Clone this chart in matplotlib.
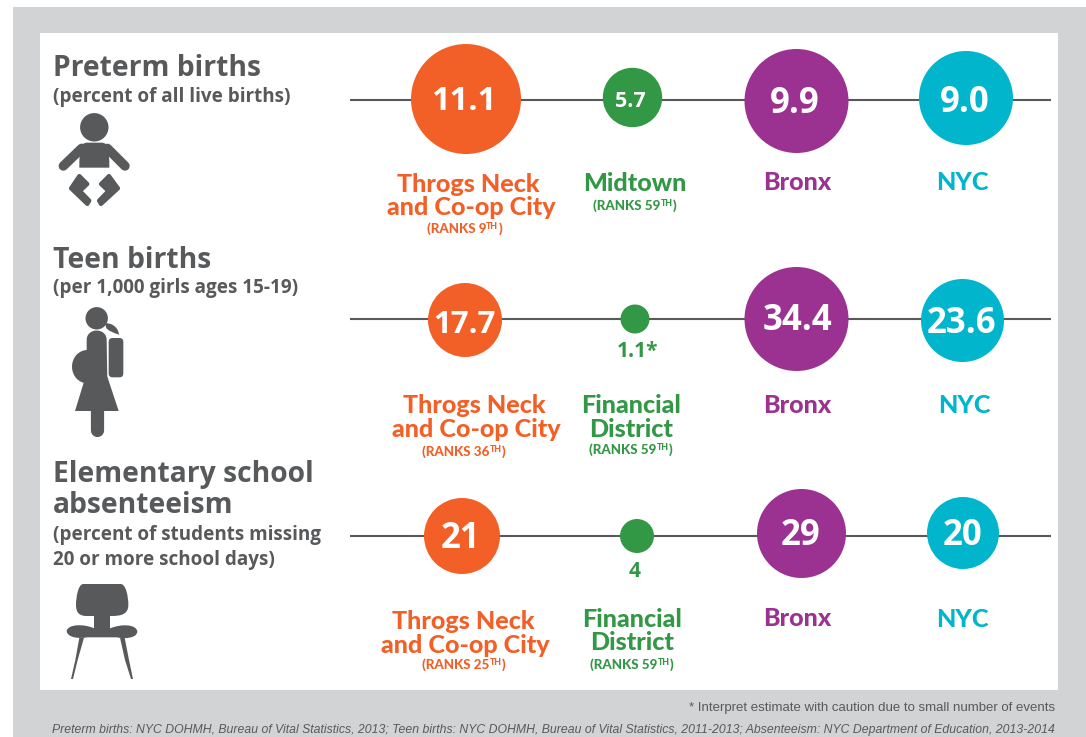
import matplotlib
matplotlib.use("Agg")
import matplotlib.pyplot as plt
from matplotlib.patches import Circle, Rectangle, Polygon, PathPatch, Ellipse, FancyBboxPatch
from matplotlib.path import Path

# ---- data ----
metrics = ["Preterm births", "Teen births", "Elementary school\nabsenteeism"]
units = ["(percent of all live births)", "(per 1,000 girls ages 15-19)",
         "(percent of students missing\n20 or more school days)"]
throgs_values = ["11.1", "17.7", "21"]
best_values = ["5.7", "1.1*", "4"]
bronx_values = ["9.9", "34.4", "29"]
nyc_values = ["9.0", "23.6", "20"]
throgs_ranks = ["9", "36", "25"]
best_ranks = ["59", "59", "59"]
best_names = [["Midtown"], ["Financial", "District"], ["Financial", "District"]]
throgs_name = ["Throgs Neck", "and Co-op City"]
bronx_name = "Bronx"
nyc_name = "NYC"
note = "* Interpret estimate with caution due to small number of events"
source = ("Preterm births: NYC DOHMH, Bureau of Vital Statistics, 2013; Teen births: NYC DOHMH, "
          "Bureau of Vital Statistics, 2011-2013; Absenteeism: NYC Department of Education, 2013-2014")

# ---- style / layout (pixels) ----
ORANGE, GREEN, PURPLE, CYAN = "#f36027", "#329845", "#9b3291", "#00b5cc"
INK, BG = "#58595b", "#d1d3d4"
BOLD = "Open Sans"
LABEL = "Lato"
HEAVY = 900
line_y = [99.7, 319.3, 536]
throgs_c = [(466, 99, 55), (465, 320, 37), (462, 536, 38)]
best_c = [(632.5, 97.5, 29.7), (635, 319, 14.5), (637, 536, 17)]
bronx_c = [(796.5, 101, 52), (796.5, 319, 52), (801.5, 533.5, 44.5)]
nyc_c = [(966, 98, 47), (962.5, 320.5, 41.5), (963, 533, 36)]
throgs_t = [(464, 110, 23.5), (464, 332.7, 22.5), (461, 547.7, 25)]
best_t = [(630, 107, 15.5), (637.5, 357, 15), (635, 576.7, 15)]
bronx_t = [(795, 112.7, 25), (798, 330, 25), (801, 545, 25)]
nyc_t = [(965, 111.6, 25), (962, 332.7, 25), (963, 545, 25)]

fig = plt.figure(figsize=(10.86, 7.37), dpi=100, facecolor="white")
ax = fig.add_axes([0, 0, 1, 1])
ax.set_xlim(0, 1086)
ax.set_ylim(737, 0)
ax.axis("off")

ax.add_patch(Rectangle((13, 7), 1073, 730, fc=BG, ec="none", zorder=0))
ax.add_patch(Rectangle((40, 33), 1018, 657, fc="white", ec="none", zorder=1))


def T(x, y, s, size, color=INK, ha="center", family=BOLD, weight="bold", **kw):
    return ax.text(x, y, s, fontsize=size, color=color, ha=ha, va="baseline",
                   family=family, weight=weight, zorder=6, **kw)


def ranks(cx, y, num, color):
    r = fig.canvas.get_renderer()
    a = T(0, y, f"(RANKS {num}", 9.6, color, ha="left", family=LABEL)
    b = T(0, y - 4, "TH", 6.3, color, ha="left", family=LABEL)
    c = T(0, y, ")", 9.6, color, ha="left", family=LABEL)
    for t in (a, b, c):
        t.set_weight(HEAVY)
    wa, wb, wc = [t.get_window_extent(r).width for t in (a, b, c)]
    left = cx - (wa + wb + wc) / 2
    a.set_x(left)
    b.set_x(left + wa)
    c.set_x(left + wa + wb)


# rows
for i in range(3):
    ax.plot([350, 1051], [line_y[i]] * 2, color=INK, lw=1.5, solid_capstyle="butt", zorder=2)
    for (cs, col) in ((throgs_c, ORANGE), (best_c, GREEN), (bronx_c, PURPLE), (nyc_c, CYAN)):
        x, y, r = cs[i]
        ax.add_patch(Circle((x, y), r, fc=col, ec="none", zorder=3))
    for (ts, vals, col) in ((throgs_t, throgs_values, "white"), (best_t, best_values, "white" if i == 0 else GREEN),
                            (bronx_t, bronx_values, "white"), (nyc_t, nyc_values, "white")):
        x, y, s = ts[i]
        T(x, y, vals[i], s, col)

LBL = 18.1
name_pos = [
    [(468.6, 191.7), (471, 215)], [(474, 412.7), (476, 436.7)], [(463, 629), (465, 652.7)]
]
throgs_rank_pos = [(464.4, 233), (464, 456), (464, 669)]
best_name_pos = [[(635, 191)], [(630.6, 412.7), (631, 436.7)], [(632, 626.7), (632, 650)]]
best_rank_pos = [(635, 210), (631, 454), (632, 669)]
bronx_pos = [(797, 190), (797, 412.7), (797, 625.7)]
nyc_pos = [(962, 190), (964, 412.7), (962, 626.7)]
for i in range(3):
    for (x, y), s in zip(name_pos[i], throgs_name):
        T(x, y, s, LBL, ORANGE, family=LABEL).set_weight(HEAVY)
    ranks(*throgs_rank_pos[i], throgs_ranks[i], ORANGE)
    for (x, y), s in zip(best_name_pos[i], best_names[i]):
        T(x, y, s, LBL, GREEN, family=LABEL).set_weight(HEAVY)
    ranks(*best_rank_pos[i], best_ranks[i], GREEN)
    T(*bronx_pos[i], bronx_name, LBL, PURPLE, family=LABEL).set_weight(HEAVY)
    T(*nyc_pos[i], nyc_name, LBL, CYAN, family=LABEL).set_weight(HEAVY)

# headings
HEAD, SUB = 20.3, 13.6
T(53, 76, metrics[0], HEAD, ha="left")
T(53, 101.7, units[0], SUB, ha="left")
T(53, 268, metrics[1], HEAD, ha="left")
T(53, 293, units[1], SUB, ha="left")
e1, e2 = metrics[2].split("\n")
T(53, 481.7, e1, HEAD, ha="left")
T(53, 513, e2, HEAD, ha="left")
u1, u2 = units[2].split("\n")
T(53, 540, u1, SUB, ha="left")
T(53, 565, u2, SUB, ha="left")

# footnotes
FOOT = ["Liberation Sans", "DejaVu Sans"]
ax.text(1055, 711.5, note, fontsize=9.5, color=INK, ha="right", va="baseline", family=FOOT, zorder=6)
ax.text(1055, 733.5, source, fontsize=8.83, color=INK, ha="right", va="baseline", family=FOOT,
        style="italic", zorder=6)


# ---- icons (coordinates from 3x crops) ----
def Z(pts, oy):
    return [(x / 3, y / 3 + oy) for x, y in pts]


def poly(pts, oy, round_px=0):
    ax.add_patch(Polygon(Z(pts, oy), closed=True, fc=INK, ec=INK if round_px else "none",
                         lw=round_px, joinstyle="round", zorder=4))


def thick(pts, oy, lw):
    p = Z(pts, oy)
    ax.plot([q[0] for q in p], [q[1] for q in p], color=INK, lw=lw, solid_capstyle="round",
            solid_joinstyle="round", zorder=4)


def bez(ops, oy):
    verts, codes = [], []
    for op in ops:
        if len(op) == 1:
            verts += Z(op, oy)
            codes.append(Path.MOVETO if not verts[:-1] else Path.LINETO)
        else:
            verts += Z(op, oy)
            codes += [Path.CURVE4] * 3
    verts.append(verts[0])
    codes.append(Path.CLOSEPOLY)
    ax.add_patch(PathPatch(Path(verts, codes), fc=INK, ec="none", zorder=4))


# baby
ax.add_patch(Circle((94.3, 127.3), 14.2, fc=INK, ec="none", zorder=4))
bez([[(238, 503)], [(238, 450), (240, 428), (262, 428)], [(305, 428)], [(325, 428), (328, 450), (328, 503)]], 0)
thick([(245, 445), (190, 498)], 0, 6.8)
thick([(322, 445), (375, 498)], 0, 6.8)
poly([(238, 528), (262, 552), (240, 573), (268, 602), (262, 612), (213, 565)], 0, 3)
poly([(327, 528), (303, 552), (325, 573), (297, 602), (303, 612), (354, 565)], 0, 3)

# pregnant teen
ax.add_patch(Circle((96.7, 318.3), 11.2, fc=INK, ec="none", zorder=4))
bez([[(316, 250)], [(335, 248), (355, 262), (357, 284)], [(340, 278), (322, 272), (318, 262)]], 240)
bez([[(260, 425)], [(260, 300)], [(260, 262), (320, 262), (320, 300)], [(322, 425)]], 240)
ax.add_patch(Ellipse((262 / 3, 240 + 380 / 3), 92 / 3, 100 / 3, fc=INK, ec="none", zorder=4))
poly([(252, 425), (322, 410), (356, 513), (225, 513)], 240)
thick([(290, 510), (290, 570)], 240, 9.5)
ax.add_patch(FancyBboxPatch((332 / 3, 240 + 300 / 3), 32 / 3, 106 / 3, boxstyle="round,pad=2,rounding_size=4",
                            fc=INK, ec="none", zorder=4))

# chair
bez([[(250, 372)], [(362, 372)], [(378, 372), (385, 410), (385, 435)], [(385, 462), (365, 468), (335, 468)],
     [(260, 468)], [(240, 468), (228, 460), (228, 435)], [(228, 410), (235, 372), (250, 372)]], 460)
poly([(283, 465), (330, 465), (330, 510), (283, 510)], 460)
bez([[(200, 512)], [(205, 493), (250, 490), (285, 506)], [(328, 506)], [(365, 490), (410, 493), (412, 515)],
     [(410, 535), (375, 537), (350, 532)], [(262, 532)], [(235, 537), (200, 532), (200, 512)]], 460)
poly([(238, 533), (252, 533), (233, 600), (219, 657), (213, 657), (226, 600)], 460)
poly([(360, 533), (374, 533), (387, 600), (399, 657), (393, 657), (375, 600)], 460)

fig.savefig("out.png", dpi=100, facecolor="white")
